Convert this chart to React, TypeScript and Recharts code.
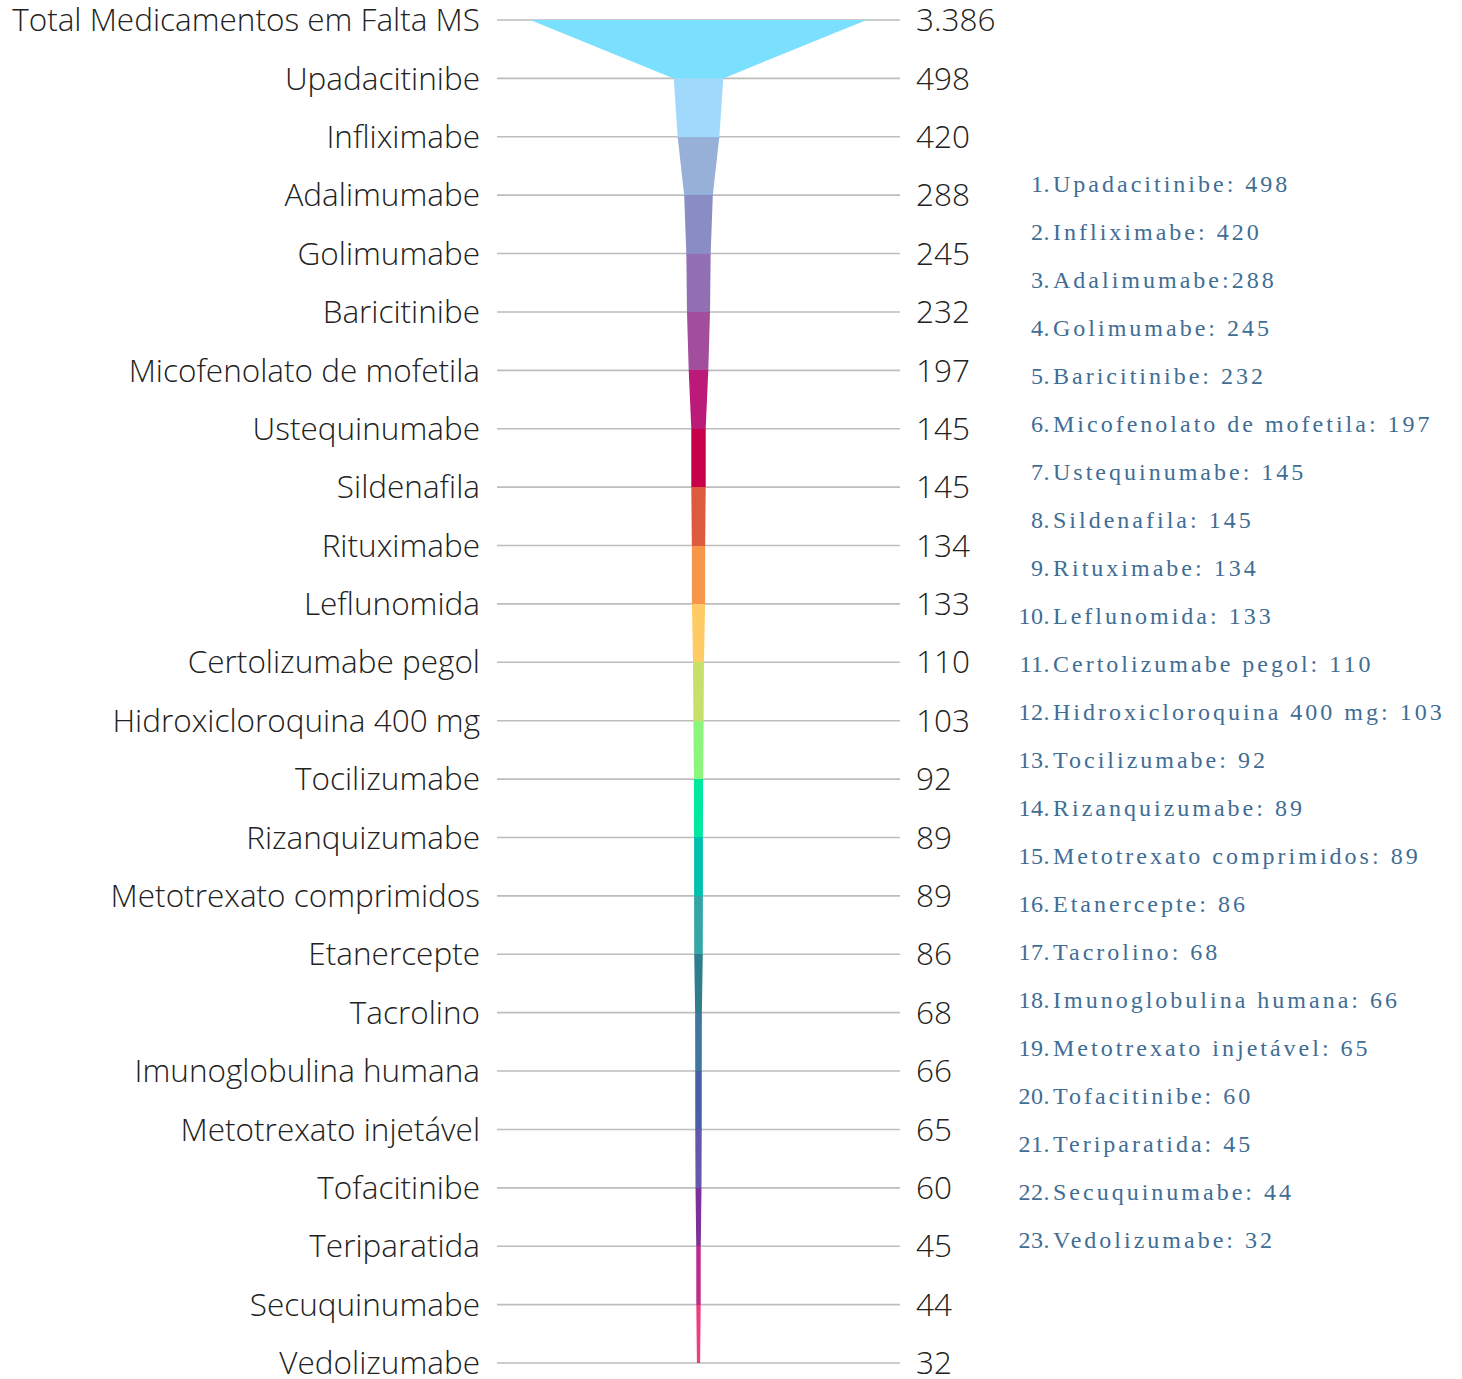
import React from "react";
import { ComposedChart, Area, Line, XAxis, YAxis, CartesianGrid } from "recharts";

const names = [
  "Total Medicamentos em Falta MS",
  "Upadacitinibe",
  "Infliximabe",
  "Adalimumabe",
  "Golimumabe",
  "Baricitinibe",
  "Micofenolato de mofetila",
  "Ustequinumabe",
  "Sildenafila",
  "Rituximabe",
  "Leflunomida",
  "Certolizumabe pegol",
  "Hidroxicloroquina 400 mg",
  "Tocilizumabe",
  "Rizanquizumabe",
  "Metotrexato comprimidos",
  "Etanercepte",
  "Tacrolino",
  "Imunoglobulina humana",
  "Metotrexato injetável",
  "Tofacitinibe",
  "Teriparatida",
  "Secuquinumabe",
  "Vedolizumabe",
];

const values = [
  3386, 498, 420, 288, 245, 232, 197, 145, 145, 134, 133, 110, 103, 92, 89, 89,
  86, 68, 66, 65, 60, 45, 44, 32,
];

// one colour per band, band i runs from row i to row i+1
const segmentColors = [
  "#7ae0fe", "#a0d9fc", "#96b0d8", "#8a8cc4", "#9270b3", "#a34e9c",
  "#bb1a78", "#c8004a", "#dd5a3c", "#f5964a", "#fecb64", "#c8e06a",
  "#8cf67c", "#00e8a0", "#00c2ac", "#34a6a6", "#2e7e8c", "#3e78a0",
  "#4660a4", "#6458a8", "#7e3096", "#c0288a", "#f03c80",
];

const X_MAX = 4056;
const LAST = names.length - 1;
const rowTicks = names.map((_, i) => i);

const data = names.map((name, idx) => ({
  idx,
  name,
  value: values[idx],
  band: [(X_MAX - values[idx]) / 2, (X_MAX + values[idx]) / 2],
}));

const fmt = (v: number) => String(v).replace(/\B(?=(\d{3})+(?!\d))/g, ".");

const labelFont = {
  fill: "#222",
  fontSize: 31.5,
  fontFamily: "'Open Sans', sans-serif",
  fontWeight: 300,
};

export default function App() {
  const stops: React.ReactNode[] = [];
  segmentColors.forEach((c, i) => {
    stops.push(<stop key={`a${i}`} offset={i / LAST} stopColor={c} />);
    stops.push(<stop key={`b${i}`} offset={(i + 1) / LAST} stopColor={c} />);
  });

  return (
    <div style={{ position: "absolute", left: 0, top: 0, width: 1462, height: 1379, background: "#fff" }}>
      <ComposedChart
        width={1010}
        height={1379}
        data={data}
        layout="vertical"
        margin={{ top: 20, right: 0, bottom: 16, left: 0 }}
      >
        <defs>
          <linearGradient id="funnelGrad" x1="0" y1="0" x2="0" y2="1">
            {stops}
          </linearGradient>
        </defs>
        <CartesianGrid
          yAxisId="left"
          horizontal
          vertical={false}
          stroke="#bdbdbd"
          strokeWidth={1.6}
        />
        <XAxis type="number" domain={[0, X_MAX]} hide />
        <YAxis
          yAxisId="left"
          type="number"
          dataKey="idx"
          domain={[0, LAST]}
          ticks={rowTicks}
          interval={0}
          width={497}
          axisLine={false}
          tickLine={false}
          tickSize={0}
          tickMargin={17}
          tick={labelFont}
          tickFormatter={(i: number) => names[i]}
        />
        <YAxis
          yAxisId="right"
          orientation="right"
          type="number"
          dataKey="idx"
          domain={[0, LAST]}
          ticks={rowTicks}
          interval={0}
          width={110}
          axisLine={false}
          tickLine={false}
          tickSize={0}
          tickMargin={16}
          tick={{ ...labelFont, textAnchor: "start" }}
          tickFormatter={(i: number) => fmt(values[i])}
        />
        <Area
          yAxisId="left"
          dataKey="band"
          type="linear"
          fill="url(#funnelGrad)"
          fillOpacity={1}
          stroke="none"
          isAnimationActive={false}
          activeDot={false}
        />
        <Line
          yAxisId="right"
          dataKey="value"
          stroke="none"
          dot={false}
          activeDot={false}
          isAnimationActive={false}
        />
      </ComposedChart>

      <div
        style={{
          position: "absolute",
          left: 980,
          top: 160,
          fontFamily: "'Liberation Serif', serif",
          fontSize: 24,
          letterSpacing: 3,
          color: "#3f6d94",
        }}
      >
        {names.slice(1).map((n, i) => (
          <div key={n} style={{ display: "flex", height: 48, lineHeight: "48px", whiteSpace: "nowrap" }}>
            <span style={{ width: 70, textAlign: "right", letterSpacing: 0.5 }}>{i + 1}.</span>
            <span style={{ marginLeft: 3 }}>
              {n}
              {i === 2 ? ":" : ": "}
              {fmt(values[i + 1])}
            </span>
          </div>
        ))}
      </div>
    </div>
  );
}
